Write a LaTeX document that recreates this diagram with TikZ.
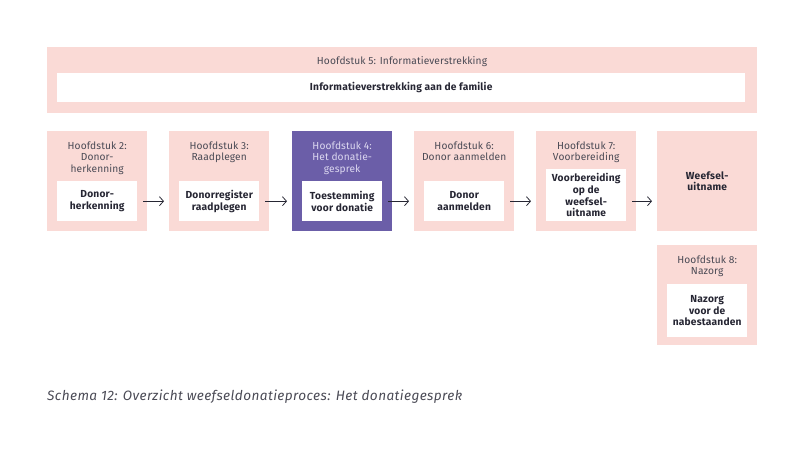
\documentclass[tikz,border=0pt]{standalone}
\usepackage{fontspec}
\setmainfont[Ligatures=NoCommon]{Fira Sans}
\usetikzlibrary{arrows.meta}
\definecolor{pinkbg}{HTML}{FADAD6}
\definecolor{purp}{HTML}{6B5EA8}
\definecolor{hdr}{HTML}{4A4A55}
\definecolor{dark}{HTML}{262633}
\definecolor{lav}{HTML}{DCD8F0}
\tikzset{
  outerbox/.style={fill=pinkbg, draw=none, minimum width=100, minimum height=100, inner sep=0, anchor=north west},
  boldfont/.style={font=\fontsize{10.2}{11.6}\selectfont\addfontfeatures{LetterSpace=2}\bfseries},
  innerbox/.style={fill=white, draw=none, minimum width=80, inner sep=0, align=center, text=dark, boldfont},
  hdrtext/.style={align=center, text=hdr, inner sep=0, anchor=north, font=\fontsize{10.2}{11.6}\selectfont\addfontfeatures{LetterSpace=1}},
  arr/.style={draw=dark, line width=0.8, -{Straight Barb[length=4,width=9,line width=0.8]}},
}
\begin{document}
\begin{tikzpicture}[x=1pt,y=-1pt]
\useasboundingbox (0,0) rectangle (805,474);
% top chapter 5
\node[fill=pinkbg, minimum width=710, minimum height=66, inner sep=0, anchor=north west] (h5) at (47,47) {};
\node[hdrtext] (t5) at (402,56) {Hoofdstuk 5: Informatieverstrekking};
\node[innerbox, minimum width=688, minimum height=29, anchor=north west] (i5) at (57,73) {Informatieverstrekking aan de familie};
% row boxes
\node[outerbox] (h2) at (47,131) {};
\node[outerbox] (h3) at (169,131) {};
\node[outerbox, fill=purp] (h4) at (292,131) {};
\node[outerbox] (h6) at (414,131) {};
\node[outerbox] (h7) at (536,131) {};
\node[outerbox, align=center, text=dark, boldfont] (wu) at (657,131) {Weefsel-\\uitname};
\node[outerbox] (h8) at (657,245) {};
% headers
\node[hdrtext] (t2) at (h2.north |- 0,141.5) {Hoofdstuk 2:\\Donor-\\herkenning};
\node[hdrtext] (t3) at (h3.north |- 0,141.5) {Hoofdstuk 3:\\Raadplegen};
\node[hdrtext, text=lav] (t4) at (h4.north |- 0,141.5) {Hoofdstuk 4:\\Het donatie-\\gesprek};
\node[hdrtext] (t6) at (h6.north |- 0,141.5) {Hoofdstuk 6:\\Donor aanmelden};
\node[hdrtext] (t7) at (h7.north |- 0,141.5) {Hoofdstuk 7:\\Voorbereiding};
\node[hdrtext] (t8) at (h8.north |- 0,255.5) {Hoofdstuk 8:\\Nazorg};
% inner boxes
\node[innerbox, minimum height=40, anchor=north] (i2) at (h2.north |- 0,181) {Donor-\\herkenning};
\node[innerbox, minimum height=40, anchor=north] (i3) at (h3.north |- 0,181) {Donorregister\\raadplegen};
\node[innerbox, minimum height=40, anchor=north] (i4) at (h4.north |- 0,181) {Toestemming\\voor donatie};
\node[innerbox, minimum height=40, anchor=north] (i6) at (h6.north |- 0,181) {Donor\\aanmelden};
\node[innerbox, minimum height=52, anchor=north] (i7) at (h7.north |- 0,169) {Voorbereiding\\op de\\weefsel-\\uitname};
\node[innerbox, minimum height=53, anchor=north] (i8) at (h8.north |- 0,284) {Nazorg\\voor de\\nabestaanden};
% arrows
\draw[arr] ([xshift=-4]h2.east |- i2.center) -- ([xshift=-5]h3.west |- i2.center);
\draw[arr] ([xshift=-4]h3.east |- i2.center) -- ([xshift=-5]h4.west |- i2.center);
\draw[arr] ([xshift=-4]h4.east |- i2.center) -- ([xshift=-5]h6.west |- i2.center);
\draw[arr] ([xshift=-4]h6.east |- i2.center) -- ([xshift=-5]h7.west |- i2.center);
\draw[arr] ([xshift=-4]h7.east |- i2.center) -- ([xshift=-5]wu.west |- i2.center);
% caption
\node[anchor=west, inner sep=0, text=hdr, font=\fontsize{13.6}{15}\selectfont\itshape\addfontfeatures{LetterSpace=3}] (cap) at (47,397) {Schema 12: Overzicht weefseldonatieproces: Het donatiegesprek};
\end{tikzpicture}
\end{document}
